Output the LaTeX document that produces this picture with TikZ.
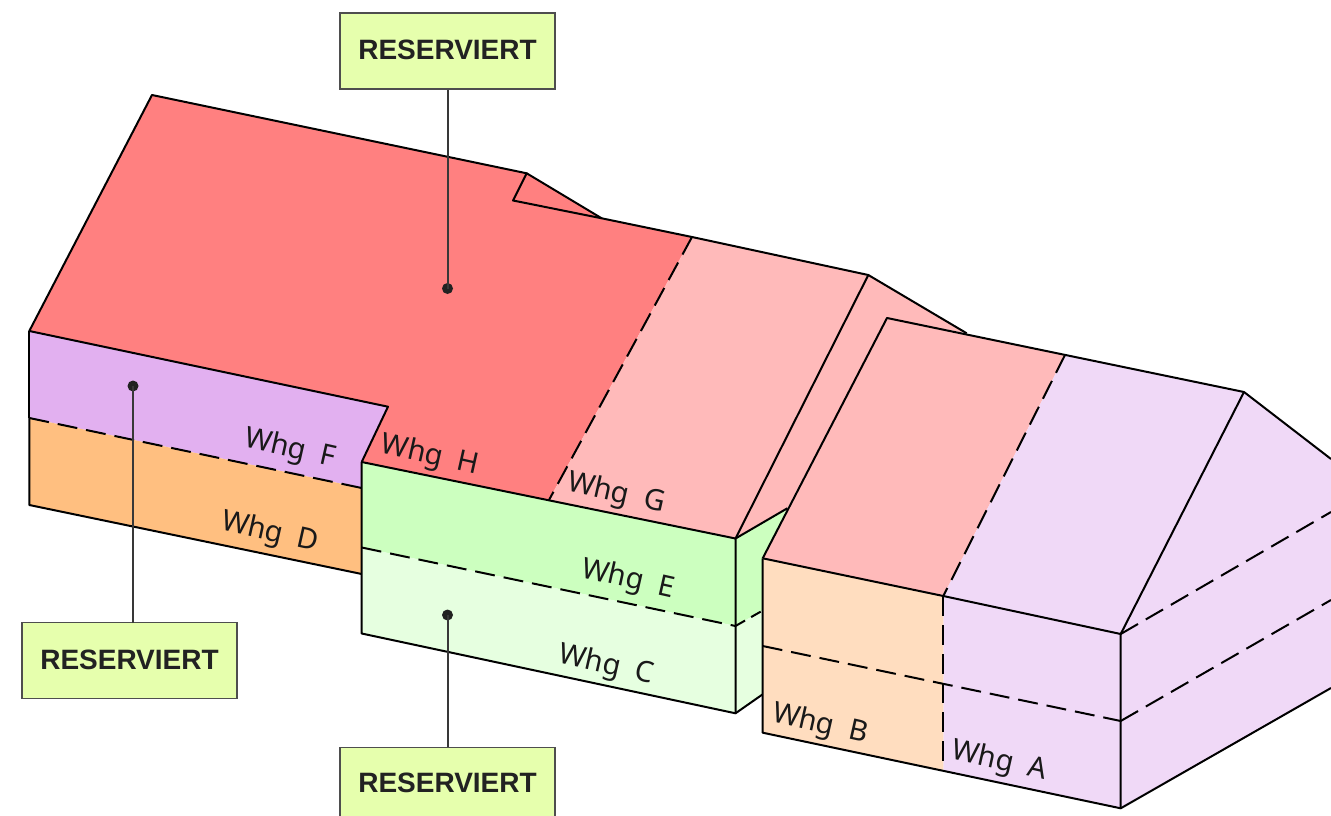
\documentclass[tikz,border=0pt]{standalone}
\usepackage{fontspec}
\setmainfont{Noto Sans}
\newfontfamily\tagfont{Liberation Sans}
\definecolor{cRed}{HTML}{FF8080}
\definecolor{cPink}{HTML}{FFBABA}
\definecolor{cLilac}{HTML}{F0D9F7}
\definecolor{cPurple}{HTML}{E2B0F0}
\definecolor{cOrange}{HTML}{FFBF80}
\definecolor{cPale}{HTML}{FFDDBF}
\definecolor{cGreen}{HTML}{CCFFBF}
\definecolor{cMint}{HTML}{E6FFE0}
\definecolor{cBox}{HTML}{E6FFAD}
\definecolor{cInk}{HTML}{222222}
\tikzset{
 face/.style={line width=2pt,draw=black,line join=round},
 dashln/.style={line width=2pt,draw=black,dash pattern=on 20pt off 9pt},
 tag/.style={draw=cInk!80,fill=cBox,line width=1.4pt,minimum width=215pt,minimum height=76pt,inner sep=0pt,font=\tagfont\bfseries\fontsize{28}{28}\selectfont,text=cInk},
 lead/.style={draw=cInk!90,line width=2pt},
 dot/.style={circle,fill=cInk,inner sep=0pt,minimum size=11pt},
 whg/.style={font=\fontsize{29}{29}\selectfont,text=black!90,rotate=-12.7,inner sep=0pt},
}
\begin{document}
\begin{tikzpicture}[x=1pt,y=-1pt]
\useasboundingbox (0,0) rectangle (1331,816);
% left low faces
\fill[cPurple] (29.3,331) -- (388,406.7) -- (361.7,462) -- (361.7,488) -- (29.3,418) -- cycle;
\fill[cOrange] (29.3,418) -- (361.7,488) -- (361.7,574) -- (29.3,505) -- cycle;
\draw[face] (29.3,418) -- (29.3,505) -- (361.7,574);
\draw[dashln] (29.3,418) -- (361.7,488);
% red roof
\fill[cRed] (152,95) -- (526.7,173.3) -- (601.7,218.3) -- (692,237) -- (549,500) -- (361.7,462) -- (388,406.7) -- (29.3,331) -- cycle;
\draw[face] (692,237) -- (601.7,218.3) -- (513,200.5) -- (526.7,173.3) -- (152,95) -- (29.3,331) -- (388,406.7) -- (361.7,462);
\draw[face] (526.7,173.3) -- (601.7,218.3);
\draw[face] (29.3,331) -- (29.3,418);
% pink mid roof and gable
\fill[cPink] (692,237) -- (868.3,275) -- (966.7,333.3) -- (887,318) -- (787.3,508.3) -- (735.5,538.5) -- (549,500) -- cycle;
\draw[face] (692,237) -- (868.3,275) -- (966.7,333.3);
\draw[face] (868.3,275) -- (735.5,538.5);
\draw[dashln] (692,237) -- (549,500);
% green block
\fill[cGreen] (361.7,462) -- (735.5,538.5) -- (735.5,626) -- (361.7,547.5) -- cycle;
\fill[cMint] (361.7,547.5) -- (735.5,626) -- (735.5,713.3) -- (361.7,633.5) -- cycle;
\fill[cGreen] (735.5,538.5) -- (787.3,508.3) -- (762.7,558.3) -- (762.7,610.5) -- (735.5,626) -- cycle;
\fill[cMint] (735.5,626) -- (762.7,610.5) -- (762.7,694.3) -- (735.5,713.3) -- cycle;
\draw[face] (361.7,462) -- (361.7,633.5) -- (735.5,713.3) -- (762.7,694.3);
\draw[face] (361.7,462) -- (735.5,538.5) -- (735.5,713.3);
\draw[face] (735.5,538.5) -- (787.3,508.3);
\draw[dashln] (361.7,547.5) -- (735.5,626);
\draw[line width=2pt,draw=black,dash pattern=on 11pt off 7pt] (735.5,626) -- (762.7,610.5);
% right block
\fill[cPink] (887,318) -- (1065,355) -- (943.3,596) -- (762.7,558.3) -- cycle;
\fill[cLilac] (1065,355) -- (1244,392) -- (1331,459) -- (1331,688) -- (1120.7,808.3) -- (943.3,770) -- (943.3,596) -- cycle;
\fill[cPale] (762.7,558.3) -- (943.3,596) -- (943.3,770) -- (762.7,732.7) -- cycle;
\draw[face] (943.3,596) -- (1120.7,634) -- (1120.7,808.3);
\draw[face] (762.7,558.3) -- (887,318) -- (1244,392) -- (1331,459);
\draw[face] (1244,392) -- (1120.7,634);
\draw[face] (762.7,558.3) -- (943.3,596);
\draw[face] (762.7,558.3) -- (762.7,732.7) -- (1120.7,808.3) -- (1331,688);
\draw[dashln] (1065,355) -- (943.3,596);
\draw[dashln] (943.3,596) -- (943.3,770);
\draw[dashln] (762.7,646) -- (1120.7,721);
\draw[dashln] (1120.7,721) -- (1331,600);
\draw[dashln] (1120.7,634) -- (1331,512);
% leaders and tags
\node[tag] (t1) at (447.5,51) {\raisebox{2pt}{RESERVIERT}};
\node[tag] (t2) at (129.5,660.5) {\raisebox{2pt}{RESERVIERT}};
\node[tag,minimum height=71pt] (t3) at (447.5,783) {RESERVIERT};
\node[dot] (d1) at (447.5,288.5) {};
\node[dot] (d2) at (133,386) {};
\node[dot] (d3) at (447.5,615) {};
\coordinate (a2) at (133,623);
\draw[lead] (t1.south) -- (d1.center);
\draw[lead] (a2) -- (d2.center);
\draw[lead] (t3.north) -- (d3.center);
% labels
\node[whg] (hF) at (290,449) {Whg\ \ F};
\node[whg] (hD) at (270,533) {Whg\ \ D};
\node[whg] (hH) at (430,456) {Whg\ \ H};
\node[whg] (hG) at (616,494) {Whg\ \ G};
\node[whg] (hE) at (628,580) {Whg\ \ E};
\node[whg] (hC) at (606,666) {Whg\ \ C};
\node[whg] (hB) at (820,725) {Whg\ \ B};
\node[whg] (hA) at (999,762) {Whg\ \ A};
\end{tikzpicture}
\end{document}
